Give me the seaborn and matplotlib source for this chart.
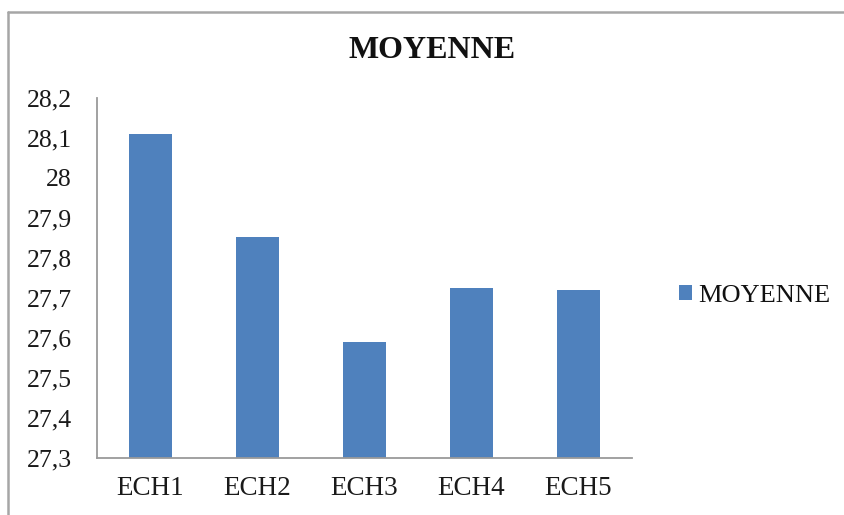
import matplotlib
matplotlib.use("Agg")
import matplotlib.pyplot as plt
from matplotlib.lines import Line2D
from matplotlib.patches import Patch
from matplotlib.ticker import FixedLocator, FuncFormatter
import seaborn as sns
import pandas as pd

# Sample means
categories = ["ECH1", "ECH2", "ECH3", "ECH4", "ECH5"]
moyenne = [28.11, 27.853, 27.591, 27.725, 27.72]
series_name = "MOYENNE"
y_ticks = [27.3, 27.4, 27.5, 27.6, 27.7, 27.8, 27.9, 28.0, 28.1, 28.2]

df = pd.DataFrame({"echantillon": categories, "moyenne": moyenne})

sns.set_theme(style="white")
plt.rcParams["font.family"] = ["Liberation Serif", "DejaVu Serif"]

BAR = "#4F81BD"
AXIS_GREY = "#9a9a9a"

fig = plt.figure(figsize=(8.45, 5.15), dpi=100)
ax = fig.add_axes([97 / 845, 1 - 458 / 515, (632 - 97) / 845, (458 - 98) / 515])

sns.barplot(data=df, x="echantillon", y="moyenne", color=BAR, width=0.4,
            saturation=1, edgecolor="none", ax=ax)

ax.set_ylim(27.3, 28.2)
ax.set_xlim(-0.5, len(categories) - 0.5)
ax.yaxis.set_major_locator(FixedLocator(y_ticks))
ax.yaxis.set_major_formatter(
    FuncFormatter(lambda v, _: f"{v:g}".replace(".", ",")))
ax.set_xlabel("")
ax.set_ylabel("")

for side in ("top", "right"):
    ax.spines[side].set_visible(False)
for side in ("left", "bottom"):
    ax.spines[side].set_color(AXIS_GREY)
    ax.spines[side].set_linewidth(1.3)

ax.tick_params(axis="y", length=0, pad=18, labelsize=18.5, labelcolor="#1a1a1a")
ax.tick_params(axis="x", length=0, pad=13, labelsize=19.5, labelcolor="#1a1a1a")

fig.text(432 / 845, 1 - 51 / 515, "MOYENNE", ha="center", va="center",
         fontsize=23, fontweight="bold", color="#111111")

handle = Patch(facecolor=BAR, edgecolor="none")
fig.legend([handle], [series_name], loc="center left",
           bbox_to_anchor=(655 / 845, 1 - 296 / 515), frameon=False,
           fontsize=19, handlelength=0.5, handleheight=0.5,
           handletextpad=0.25, labelcolor="#111111")

# Chart area frame (left and top edges)
frame_kw = dict(transform=fig.transFigure, color="#a6a6a6", linewidth=1.8)
fig.add_artist(Line2D([8.5 / 845, 8.5 / 845], [0, 1 - 12 / 515], **frame_kw))
fig.add_artist(Line2D([8.5 / 845, 1], [1 - 12 / 515, 1 - 12 / 515], **frame_kw))

fig.savefig("out.png", dpi=100, facecolor="white")
